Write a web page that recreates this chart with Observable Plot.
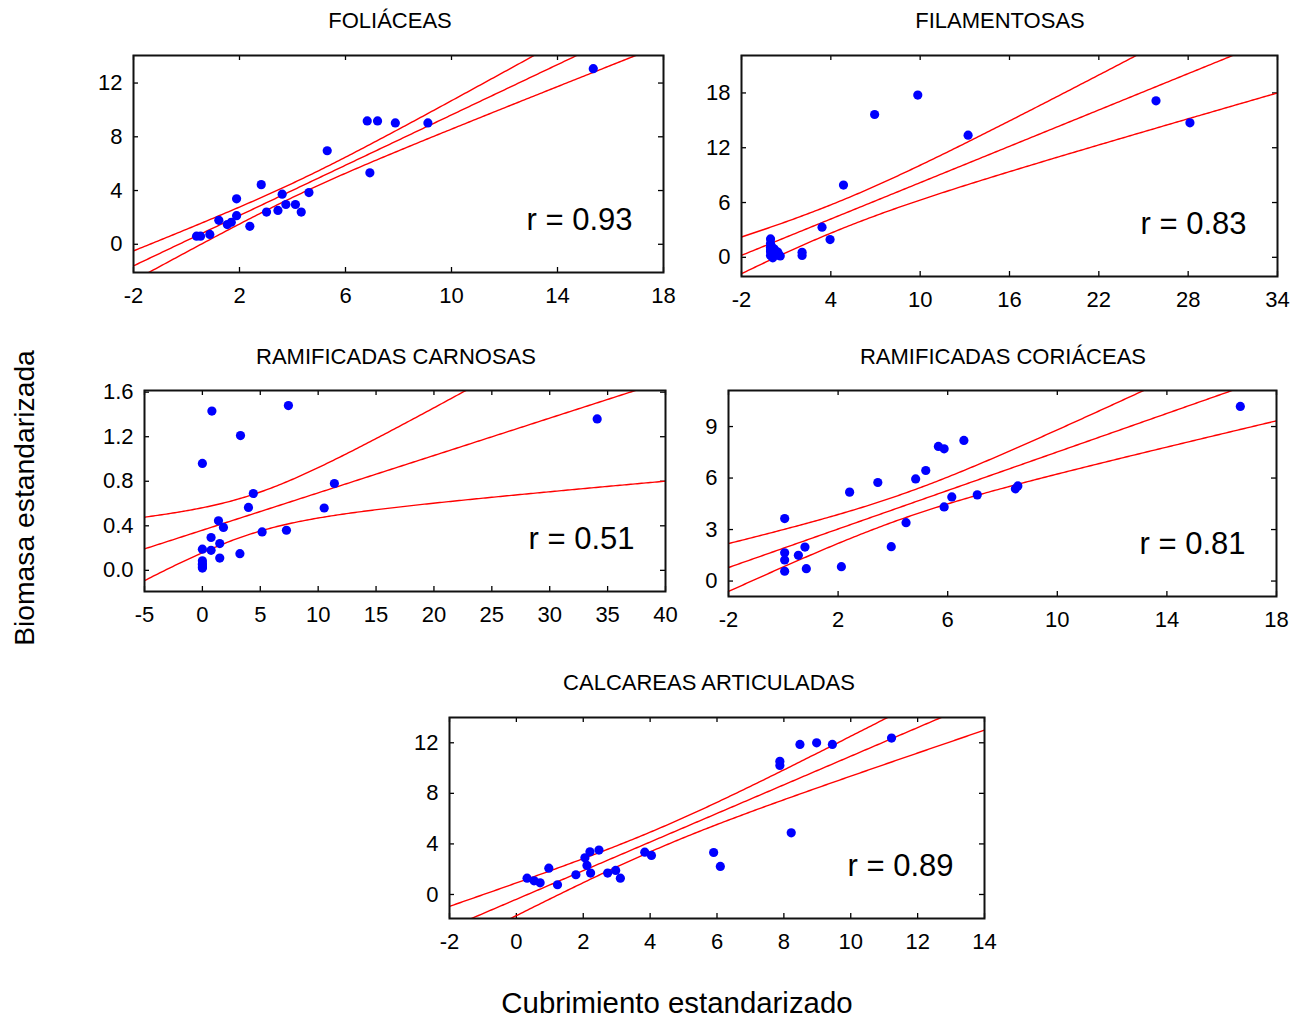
<!DOCTYPE html>
<html><head><meta charset="utf-8">
<script src="https://cdn.jsdelivr.net/npm/d3@7"></script>
<script src="https://cdn.jsdelivr.net/npm/@observablehq/plot@0.6"></script>
<style>
body{margin:0;background:#fff;}
#root{position:relative;width:1304px;height:1019px;overflow:hidden;font-family:"Liberation Sans",Arial,sans-serif;color:#000;background:#fff;}
.t{position:absolute;transform:translate(-50%,-50%);white-space:nowrap;font-size:22px;line-height:1;}
.plot{position:absolute;}
</style></head><body><div id="root"></div>
<script>
// ---------- data ----------
const titles = ["FOLIÁCEAS", "FILAMENTOSAS", "RAMIFICADAS CARNOSAS", "RAMIFICADAS CORIÁCEAS", "CALCAREAS ARTICULADAS"];
const rLabels = ["r = 0.93", "r = 0.83", "r = 0.51", "r = 0.81", "r = 0.89"];
const yTitle = "Biomasa estandarizada";
const xTitle = "Cubrimiento estandarizado";

// FOLIÁCEAS
const folX = [15.35, 6.82, 7.21, 7.88, 9.11, 5.31, 6.92, 2.82, 1.89, 3.61, 4.62, 3.75, 4.11, 4.33, 3.45, 3.02, 1.89, 1.69, 1.54, 1.22, 2.39, 0.88, 0.38, 0.53];
const folY = [13.07, 9.18, 9.18, 9.03, 9.03, 6.96, 5.32, 4.44, 3.38, 3.73, 3.85, 2.96, 2.96, 2.40, 2.52, 2.40, 2.13, 1.64, 1.47, 1.78, 1.34, 0.73, 0.60, 0.60];
// FILAMENTOSAS (many overlapping points in the cluster near the origin)
const filX = [-0.05, -0.05, -0.05, -0.05, 0.1, 0.45, 0.6, -0.05, -0.05, 0.0, 0.1, 0.2, 0.4, 2.07, 2.07, 3.41, 3.95, 4.85, 6.94, 9.84, 13.22, 25.84, 28.12];
const filY = [2.01, 1.1, 0.6, 0.2, -0.05, 0.5, 0.15, 1.5, 0.8, 1.2, 1.0, 0.9, 0.6, 0.55, 0.2, 3.30, 1.94, 7.91, 15.64, 17.77, 13.37, 17.14, 14.73];
// RAMIFICADAS CARNOSAS
const carX = [0.82, 7.43, 3.29, 0.0, 34.1, 11.4, 4.40, 3.98, 10.52, 1.39, 1.82, 5.16, 7.26, 0.75, 1.50, 0.0, 0.75, 3.24, 1.50, 0.0, 0.0, 0.0, 0.0, 0.0];
const carY = [1.43, 1.48, 1.21, 0.96, 1.36, 0.78, 0.69, 0.565, 0.56, 0.445, 0.385, 0.345, 0.36, 0.295, 0.24, 0.19, 0.18, 0.15, 0.11, 0.085, 0.03, 0.06, 0.05, 0.02];
// RAMIFICADAS CORIÁCEAS
const corX = [16.68, 6.59, 5.66, 5.87, 5.20, 4.83, 3.45, 2.42, 8.56, 8.47, 7.08, 6.15, 5.87, 4.48, 0.05, 3.94, 0.79, 0.55, 0.05, 0.05, 0.84, 2.12, 0.05];
const corY = [10.17, 8.19, 7.84, 7.70, 6.44, 5.95, 5.74, 5.18, 5.54, 5.37, 5.02, 4.90, 4.32, 3.40, 3.64, 2.00, 1.98, 1.50, 1.65, 1.23, 0.72, 0.84, 0.57];
// CALCAREAS ARTICULADAS
const calX = [11.22, 8.48, 8.98, 9.45, 7.88, 7.88, 8.22, 5.90, 6.10, 3.84, 4.04, 2.47, 2.20, 2.05, 2.11, 2.22, 1.78, 0.97, 0.32, 0.53, 0.71, 1.23, 2.73, 2.97, 3.11];
const calY = [12.37, 11.87, 12.0, 11.87, 10.53, 10.21, 4.88, 3.32, 2.22, 3.35, 3.09, 3.51, 3.38, 2.90, 2.30, 1.69, 1.56, 2.08, 1.29, 1.08, 0.92, 0.77, 1.69, 1.90, 1.29];

// axis ticks
const folXTicks = [-2, 2, 6, 10, 14, 18], folYTicks = [0, 4, 8, 12];
const filXTicks = [-2, 4, 10, 16, 22, 28, 34], filYTicks = [0, 6, 12, 18];
const carXTicks = [-5, 0, 5, 10, 15, 20, 25, 30, 35, 40], carYTicks = [0, 0.4, 0.8, 1.2, 1.6];
const corXTicks = [-2, 2, 6, 10, 14, 18], corYTicks = [0, 3, 6, 9];
const calXTicks = [-2, 0, 2, 4, 6, 8, 10, 12, 14], calYTicks = [0, 4, 8, 12];

// axis domains
const folXDom = [-2, 18], folYDom = [-2.1, 14.05];
const filXDom = [-2, 34], filYDom = [-2.1, 22.1];
const carXDom = [-5, 40], carYDom = [-0.19, 1.615];
const corXDom = [-2, 18], corYDom = [-0.9, 11.1];
const calXDom = [-2, 14], calYDom = [-1.9, 14.0];

// ---------- layout ----------
const FONT = '"Liberation Sans", Arial, sans-serif';
const root = document.getElementById("root");

function tq975(df) {
  const z = 1.959963985;
  const z3 = z ** 3, z5 = z ** 5, z7 = z ** 7, z9 = z ** 9;
  const g1 = (z3 + z) / 4;
  const g2 = (5 * z5 + 16 * z3 + 3 * z) / 96;
  const g3 = (3 * z7 + 19 * z5 + 17 * z3 - 15 * z) / 384;
  const g4 = (79 * z9 + 776 * z7 + 1482 * z5 - 1920 * z3 - 945 * z) / 92160;
  return z + g1 / df + g2 / df ** 2 + g3 / df ** 3 + g4 / df ** 4;
}

// least-squares fit with 95% confidence band of the mean, derived from the points
function bands(xs, ys, dom) {
  const n = xs.length;
  const mx = d3.mean(xs), my = d3.mean(ys);
  let sxx = 0, sxy = 0;
  for (let i = 0; i < n; i++) { sxx += (xs[i] - mx) ** 2; sxy += (xs[i] - mx) * (ys[i] - my); }
  const b = sxy / sxx, a = my - b * mx;
  let sse = 0;
  for (let i = 0; i < n; i++) sse += (ys[i] - a - b * xs[i]) ** 2;
  const s = Math.sqrt(sse / (n - 2));
  const t = tq975(n - 2);
  const N = 240;
  return d3.range(N + 1).map(i => {
    const x = dom[0] + (dom[1] - dom[0]) * i / N;
    const yh = a + b * x;
    const h = t * s * Math.sqrt(1 / n + (x - mx) ** 2 / sxx);
    return {x, fit: yh, lo: yh - h, hi: yh + h};
  });
}

function panel(cfg) {
  const ML = 75, MR = 20, MT = 12, MB = 45;
  const iw = cfg.R - cfg.L, ih = cfg.B - cfg.T;
  const pts = cfg.xs.map((x, i) => ({x, y: cfg.ys[i]}));
  const band = bands(cfg.xs, cfg.ys, cfg.xDom);
  const TL = 5;
  const line = k => Plot.line(band, {x: "x", y: k, stroke: "#ff0000", strokeWidth: 1.4, clip: true});
  const p = Plot.plot({
    width: iw + ML + MR, height: ih + MT + MB,
    marginLeft: ML, marginRight: MR, marginTop: MT, marginBottom: MB,
    x: {domain: cfg.xDom},
    y: {domain: cfg.yDom},
    style: {fontFamily: FONT, fontSize: "22px", color: "#000", background: "transparent", overflow: "visible"},
    marks: [
      Plot.axisX(cfg.xTicks, {anchor: "bottom", label: null, tickSize: 0, tickPadding: 15, tickFormat: cfg.xFmt, fontSize: 22, fill: "#000"}),
      Plot.axisY(cfg.yTicks, {anchor: "left", label: null, tickSize: 0, tickPadding: 11, tickFormat: cfg.yFmt, fontSize: 22, fill: "#000"}),
      Plot.ruleX(cfg.xTicks, {x: d => d, insetTop: ih - TL, stroke: "#000", strokeWidth: 1.3}),
      Plot.ruleX(cfg.xTicks, {x: d => d, insetBottom: ih - TL, stroke: "#000", strokeWidth: 1.3}),
      Plot.ruleY(cfg.yTicks, {y: d => d, insetRight: iw - TL, stroke: "#000", strokeWidth: 1.3}),
      Plot.ruleY(cfg.yTicks, {y: d => d, insetLeft: iw - TL, stroke: "#000", strokeWidth: 1.3}),
      line("hi"), line("fit"), line("lo"),
      Plot.dot(pts, {x: "x", y: "y", r: 4.6, fill: "#0000ff", stroke: "none", clip: true}),
      Plot.frame({stroke: "#111", strokeWidth: 2}),
      Plot.text([cfg.r], {text: d => d, frameAnchor: "bottom-right", dx: -31, dy: -52, textAnchor: "end", lineAnchor: "middle", fontSize: 31, fill: "#000"})
    ]
  });
  p.classList.add("plot");
  p.style.left = (cfg.L - ML) + "px";
  p.style.top = (cfg.T - MT) + "px";
  root.appendChild(p);
  const t = document.createElement("div");
  t.className = "t";
  t.textContent = cfg.title;
  t.style.left = cfg.tx + "px";
  t.style.top = cfg.ty + "px";
  root.appendChild(t);
}

const intFmt = d => String(d);
const dec1 = d => d.toFixed(1);

panel({title: titles[0], r: rLabels[0], xs: folX, ys: folY, xDom: folXDom, yDom: folYDom, xTicks: folXTicks, yTicks: folYTicks, xFmt: intFmt, yFmt: intFmt, L: 133, R: 663, T: 55, B: 272, tx: 390, ty: 21});
panel({title: titles[1], r: rLabels[1], xs: filX, ys: filY, xDom: filXDom, yDom: filYDom, xTicks: filXTicks, yTicks: filYTicks, xFmt: intFmt, yFmt: intFmt, L: 741, R: 1277, T: 55, B: 276, tx: 1000, ty: 21});
panel({title: titles[2], r: rLabels[2], xs: carX, ys: carY, xDom: carXDom, yDom: carYDom, xTicks: carXTicks, yTicks: carYTicks, xFmt: intFmt, yFmt: dec1, L: 144, R: 665, T: 390, B: 591, tx: 396, ty: 357});
panel({title: titles[3], r: rLabels[3], xs: corX, ys: corY, xDom: corXDom, yDom: corYDom, xTicks: corXTicks, yTicks: corYTicks, xFmt: intFmt, yFmt: intFmt, L: 728, R: 1276, T: 390, B: 596, tx: 1003, ty: 357});
panel({title: titles[4], r: rLabels[4], xs: calX, ys: calY, xDom: calXDom, yDom: calYDom, xTicks: calXTicks, yTicks: calYTicks, xFmt: intFmt, yFmt: intFmt, L: 449, R: 984, T: 717, B: 918, tx: 709, ty: 683});

const yt = document.createElement("div");
yt.className = "t";
yt.textContent = yTitle;
yt.style.fontSize = "28.3px";
yt.style.left = "24px";
yt.style.top = "498px";
yt.style.transform = "translate(-50%,-50%) rotate(-90deg)";
root.appendChild(yt);

const xt = document.createElement("div");
xt.className = "t";
xt.textContent = xTitle;
xt.style.fontSize = "29.4px";
xt.style.left = "677px";
xt.style.top = "1003px";
root.appendChild(xt);
</script></body></html>
